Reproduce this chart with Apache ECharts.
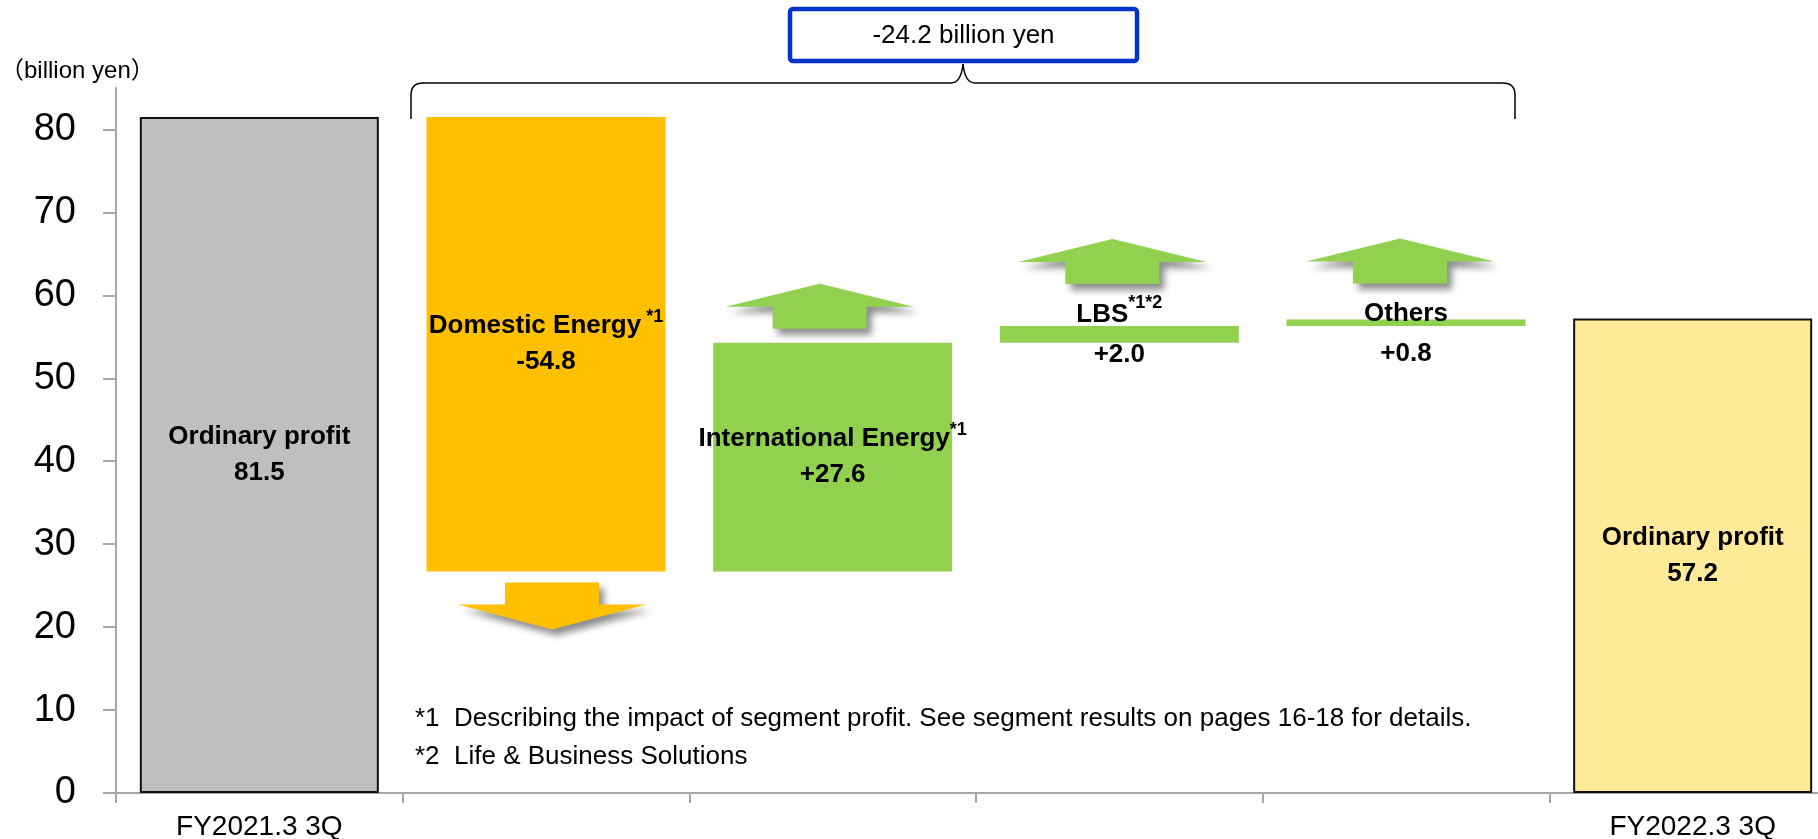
<!DOCTYPE html>
<html>
<head>
<meta charset="utf-8">
<script src="https://cdn.jsdelivr.net/npm/echarts@6/dist/echarts.min.js"></script>
<style>
html,body{margin:0;padding:0;background:#fff;}
#chart{width:1818px;height:839px;}
</style>
</head>
<body>
<div id="chart"></div>
<script>
// ---------------- data ----------------
const categories = ['FY2021.3 3Q', 'Domestic Energy', 'International Energy', 'LBS', 'Others', 'FY2022.3 3Q'];
const axisLabelTexts = ['FY2021.3 3Q', '', '', '', '', 'FY2022.3 3Q'];
const startValue = 81.5;
const endValue = 57.2;
const totalName = 'Ordinary profit';
const segmentNames = ['Domestic Energy', 'International Energy', 'LBS', 'Others'];
const segmentMarks = [' *1', '*1', '*1*2', ''];
const segmentChanges = [-54.8, 27.6, 2.0, 0.8];
const differenceValue = -24.2;
const yTickValues = [0, 10, 20, 30, 40, 50, 60, 70, 80];
const unitLabel = '（billion yen）';
const footnotes = [
  '*1  Describing the impact of segment profit. See segment results on pages 16-18 for details.',
  '*2  Life & Business Solutions'
];

// ---------------- styles / layout ----------------
const F_SANS = "'Liberation Sans',Arial,sans-serif";
const F_TITLE = "'Liberation Sans','Noto Sans CJK JP',sans-serif";
const C_GRAY = '#BFBFBF', C_ORANGE = '#FFC000', C_GREEN = '#92D050', C_YELLOW = '#FFEA99';
const arrowLayout = { gap: [11, 14, 42, 36], dx: [6, -13, -7, -6] };
const labelOffsetY = { 4: 11 };

// ---------------- derived ----------------
const r1 = v => Math.round(v * 10) / 10;
const fmtSigned = v => (v > 0 ? '+' : '') + v.toFixed(1);
let running = startValue;
const baseData = [0];
const barData = [];
const labelTexts = ['{b|' + totalName + '}\n{b|' + startValue.toFixed(1) + '}'];
const arrowData = [];
barData.push({ value: startValue, itemStyle: { color: C_GRAY, borderColor: '#111', borderWidth: 2 } });
segmentChanges.forEach((c, i) => {
  const lo = c < 0 ? r1(running + c) : r1(running);
  const hi = r1(lo + Math.abs(c));
  const idx = i + 1;
  const st = Math.abs(c) < 5 ? 'w' : 'b';
  baseData.push(lo);
  const item = { value: Math.abs(c), itemStyle: { color: c < 0 ? C_ORANGE : C_GREEN, borderWidth: 0 } };
  if (labelOffsetY[idx]) item.label = { offset: [0, labelOffsetY[idx]] };
  barData.push(item);
  labelTexts.push('{' + st + '|' + segmentNames[i] + '}' + (segmentMarks[i] ? '{s|' + segmentMarks[i] + '}' : '') +
                  '\n{' + st + '|' + fmtSigned(c) + '}');
  arrowData.push([idx, c < 0 ? lo : hi, c < 0 ? -1 : 1]);
  running += c;
});
baseData.push(0);
barData.push({ value: endValue, itemStyle: { color: C_YELLOW, borderColor: '#111', borderWidth: 2 } });
labelTexts.push('{b|' + totalName + '}\n{b|' + endValue.toFixed(1) + '}');

function renderArrow(params, api) {
  const i = params.dataIndex;
  const p = api.coord([api.value(0), api.value(1)]);
  const dir = api.value(2);
  const cx = p[0] + arrowLayout.dx[i];
  const y0 = p[1] - dir * arrowLayout.gap[i];
  const s = -dir;
  const hw = 94, sw = 47, sh = 22, hh = dir > 0 ? 23 : 25;
  const pts = [
    [cx - sw, y0], [cx + sw, y0], [cx + sw, y0 + s * sh], [cx + hw, y0 + s * sh],
    [cx, y0 + s * (sh + hh)], [cx - hw, y0 + s * sh], [cx - sw, y0 + s * sh]
  ];
  return {
    type: 'polygon',
    shape: { points: pts },
    style: {
      fill: dir > 0 ? C_GREEN : C_ORANGE,
      shadowBlur: 7, shadowOffsetX: 5, shadowOffsetY: 6, shadowColor: 'rgba(0,0,0,0.45)'
    }
  };
}

const braceStyle = { fill: null, stroke: '#000', lineWidth: 1.5 };
const brace = [
  { type: 'line', shape: { x1: 411, y1: 119, x2: 411, y2: 95 } },
  { type: 'bezierCurve', shape: { x1: 411, y1: 95, cpx1: 411, cpy1: 83, x2: 423, y2: 83 } },
  { type: 'line', shape: { x1: 423, y1: 83, x2: 951, y2: 83 } },
  { type: 'bezierCurve', shape: { x1: 951, y1: 83, cpx1: 961, cpy1: 83, x2: 963, y2: 64 } },
  { type: 'bezierCurve', shape: { x1: 963, y1: 64, cpx1: 965, cpy1: 83, x2: 975, y2: 83 } },
  { type: 'line', shape: { x1: 975, y1: 83, x2: 1503, y2: 83 } },
  { type: 'bezierCurve', shape: { x1: 1503, y1: 83, cpx1: 1515, cpy1: 83, x2: 1515, y2: 95 } },
  { type: 'line', shape: { x1: 1515, y1: 95, x2: 1515, y2: 119 } }
].map(e => Object.assign(e, { style: braceStyle }));

const chart = echarts.init(document.getElementById('chart'), null, { renderer: 'canvas' });
chart.setOption({
  animation: false,
  title: {
    text: unitLabel, left: 0, top: 59, padding: 0,
    textStyle: { fontFamily: F_TITLE, fontSize: 24, fontWeight: 'normal', color: '#000' }
  },
  grid: { left: 116, width: 1720, top: 88, height: 705, containLabel: false, outerBoundsMode: 'none' },
  xAxis: {
    type: 'category',
    data: categories,
    axisLine: { lineStyle: { color: '#A6A6A6', width: 2 } },
    axisTick: { show: true, length: 10, lineStyle: { color: '#A6A6A6', width: 2 } },
    axisLabel: {
      interval: 0, margin: 20, color: '#000', fontFamily: F_SANS, fontSize: 28,
      formatter: (v, idx) => axisLabelTexts[idx]
    }
  },
  yAxis: {
    type: 'value', min: 0, max: 85, interval: 10,
    splitLine: { show: false },
    axisLine: { show: true, lineStyle: { color: '#A6A6A6', width: 2 } },
    axisTick: { show: true, length: 13, customValues: yTickValues, lineStyle: { color: '#A6A6A6', width: 2 } },
    axisLabel: { customValues: yTickValues, margin: 40, color: '#000', fontFamily: F_SANS, fontSize: 38 }
  },
  series: [
    {
      type: 'bar', stack: 'w', data: baseData, barWidth: 239,
      itemStyle: { color: 'rgba(0,0,0,0)' }, silent: true
    },
    {
      type: 'bar', stack: 'w', data: barData, barWidth: 239,
      label: {
        show: true, position: 'inside', color: '#000',
        formatter: p => labelTexts[p.dataIndex],
        rich: {
          b: { fontFamily: F_SANS, fontWeight: 'bold', fontSize: 26, lineHeight: 36, color: '#000' },
          w: { fontFamily: F_SANS, fontWeight: 'bold', fontSize: 26, lineHeight: 40, color: '#000' },
          s: { fontFamily: F_SANS, fontWeight: 'bold', fontSize: 18, lineHeight: 15, verticalAlign: 'top', color: '#000' }
        }
      }
    },
    {
      type: 'custom', data: arrowData, renderItem: renderArrow, silent: true, z: 3
    }
  ],
  graphic: brace.concat([
    {
      type: 'rect',
      shape: { x: 790, y: 9, width: 347, height: 52, r: 3 },
      style: { fill: '#fff', stroke: '#0033CC', lineWidth: 4.5 }
    },
    {
      type: 'text', x: 963.5, y: 36,
      style: { text: differenceValue.toFixed(1) + ' billion yen', align: 'center', verticalAlign: 'middle',
               font: '26px ' + F_SANS, fill: '#000' }
    },
    {
      type: 'text', x: 415, y: 719,
      style: { text: footnotes[0], align: 'left', verticalAlign: 'middle', font: '26px ' + F_SANS, fill: '#000' }
    },
    {
      type: 'text', x: 415, y: 757,
      style: { text: footnotes[1], align: 'left', verticalAlign: 'middle', font: '26px ' + F_SANS, fill: '#000' }
    }
  ])
});
</script>
</body>
</html>
